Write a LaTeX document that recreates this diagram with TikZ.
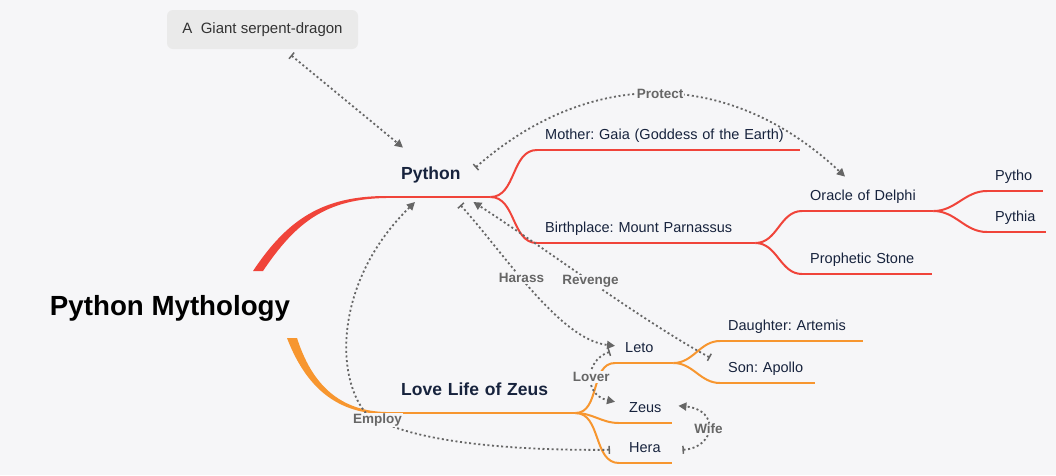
\documentclass[tikz,border=0pt]{standalone}
\usepackage{fontspec}
\setmainfont{Liberation Sans}
\usetikzlibrary{arrows.meta,calc}
\definecolor{cBg}{HTML}{F6F6F8}
\definecolor{cRed}{HTML}{F0443A}
\definecolor{cOrange}{HTML}{F7962F}
\definecolor{cInk}{HTML}{17233D}
\definecolor{cRel}{HTML}{666666}
\definecolor{cTag}{HTML}{EAEAEA}
\frenchspacing

\begin{document}
\begin{tikzpicture}[
  x=1pt,y=-1pt,
  mainb/.style={anchor=south west,align=left,text=cInk,
    font=\bfseries\fontsize{17.5}{20}\selectfont,
    inner xsep=16pt,inner ysep=13pt,text height=13pt,text depth=4pt},
  subb/.style={anchor=south west,align=left,text=cInk,
    font=\fontsize{14.5}{17}\selectfont,
    inner xsep=8pt,inner ysep=7pt,text height=11pt,text depth=3pt},
  lr/.style={draw=cRed,line width=2pt},
  lo/.style={draw=cOrange,line width=2pt},
  rel/.style={draw=cRel,line width=1.8pt,dash pattern=on 2pt off 2.6pt,
    {Bar[width=8pt,line width=1.5pt]}-{Triangle[length=8pt,width=8pt]}},
  lbl/.style={font=\bfseries\fontsize{13.5}{15}\selectfont,text=cRel,
    fill=cBg,inner sep=1pt},
  ]
  \fill[cBg] (0,0) rectangle (1056,475);

  % root and main topics
  \node[anchor=base,text=black,font=\bfseries\fontsize{27.7}{30}\selectfont]
    (root) at (170,315) {Python Mythology};
  \node[mainb,text width=73pt] (python) at (385,197) {Python};
  \node[mainb,text width=158pt] (love) at (385,413) {Love Life of Zeus};

  % red branch
  \node[subb,text width=247pt] (mother) at (537,150)
    {Mother: Gaia (Goddess of the Earth)};
  \node[subb,text width=202pt] (birth) at (537,243)
    {Birthplace: Mount Parnassus};
  \node[subb,text width=115pt] (oracle) at (802,211) {Oracle of Delphi};
  \node[subb,text width=114pt] (stone) at (802,274) {Prophetic Stone};
  \node[subb,text width=40pt] (pytho) at (987,191) {Pytho};
  \node[subb,text width=43pt] (pythia) at (987,232) {Pythia};

  % orange branch
  \node[subb,inner xsep=10pt,text width=38pt] (leto) at (615,363) {Leto};
  \node[subb,inner xsep=10pt,text width=33pt] (zeus) at (619,423) {Zeus};
  \node[subb,inner xsep=10pt,text width=33pt] (hera) at (619,463) {Hera};
  \node[subb,text width=127pt] (artemis) at (720,341) {Daughter: Artemis};
  \node[subb,text width=79pt] (apollo) at (720,383) {Son: Apollo};

  \node[fill=cTag,rounded corners=6pt,minimum width=191pt,minimum height=39pt,
    text=black!80,font=\fontsize{15}{17}\selectfont]
    (dragon) at (262.5,29.5) {A\ \ Giant serpent-dragon};

  % tapered roots
  \fill[cRed] (253,271) .. controls (287,220) and (322,196) .. (386,196)
    -- (386,198) .. controls (326,199) and (296,222) .. (263,271) -- cycle;
  \fill[cOrange] (287,338) .. controls (305,385) and (335,414) .. (386,414)
    -- (386,412) .. controls (340,411) and (312,385) .. (297,338) -- cycle;

  \foreach \n in {python,mother,birth,oracle,stone,pytho,pythia}
    \draw[lr] (\n.south west) -- (\n.south east);
  \foreach \n in {love,leto,zeus,hera,artemis,apollo}
    \draw[lo] (\n.south west) -- (\n.south east);

  \draw[lr] (python.south east) to[out=0,in=180] (mother.south west);
  \draw[lr] (python.south east) to[out=0,in=180] (birth.south west);
  \draw[lr] (birth.south east) to[out=0,in=180] (oracle.south west);
  \draw[lr] (birth.south east) to[out=0,in=180] (stone.south west);
  \draw[lr] (oracle.south east) to[out=0,in=180] (pytho.south west);
  \draw[lr] (oracle.south east) to[out=0,in=180] (pythia.south west);
  \draw[lo] (love.south east) to[out=0,in=180] (leto.south west);
  \draw[lo] (love.south east) to[out=0,in=180] (zeus.south west);
  \draw[lo] (love.south east) to[out=0,in=180] (hera.south west);
  \draw[lo] (leto.south east) to[out=0,in=180] (artemis.south west);
  \draw[lo] (leto.south east) to[out=0,in=180] (apollo.south west);

  % relationships
  \draw[rel] ($(dragon.south)+(28.5,6)$) -- ($(python.north west)+(18,-6)$);
  \draw[rel] ($(python.north east)+(-15,14)$)
    .. controls +(115,-101) and +(-115,-108) ..
    node[lbl,pos=0.5]{Protect} ($(oracle.north west)+(43,-6)$);
  \draw[rel] ($(python.south east)+(-30,8)$)
    .. controls +(45,50) and +(-55,-6) ..
    node[lbl,pos=0.42]{Harass} ($(leto.west)+(0,-3)$);
  \draw[rel] ($(apollo.north west)+(-10,3)$)
    .. controls +(-70,-38) and +(67,43) ..
    node[lbl,pos=0.5]{Revenge} ($(python.south east)+(-17,5)$);
  \draw[rel] ($(hera.west)+(-9,1)$)
    .. controls +(-110,1) and +(35,28) .. (365,412)
    node[lbl,pos=0.9]{Employ}
    .. controls +(-30,-37) and +(-80,78) .. ($(python.south west)+(30,5)$);
  \draw[rel] ($(leto.west)+(-5,3)$)
    .. controls +(-25,8) and +(-32,-7) ..
    node[lbl,pos=0.5]{Lover} ($(zeus.west)+(-4,-7)$);
  \draw[rel] ($(hera.east)+(10,1)$)
    .. controls +(33,-2) and +(42,4) ..
    node[lbl,pos=0.5]{Wife} ($(zeus.east)+(6,-3)$);
\end{tikzpicture}
\end{document}
